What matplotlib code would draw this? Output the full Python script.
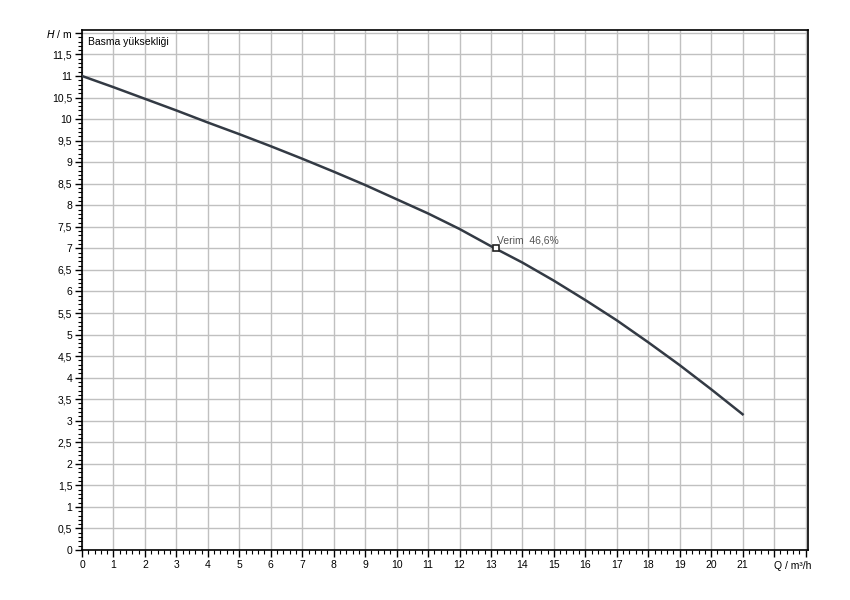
import matplotlib
matplotlib.use("Agg")
import matplotlib.pyplot as plt
from matplotlib.ticker import MultipleLocator, FuncFormatter

plt.rcParams['font.family'] = ['Liberation Sans', 'DejaVu Sans']

# pump curve
q = [0, 1, 2, 3, 4, 5, 6, 7, 8, 9, 10, 11, 12, 13, 14, 15, 16, 17, 18, 19, 20, 21]
h = [11.0, 10.74, 10.47, 10.2, 9.92, 9.65, 9.37, 9.08, 8.78, 8.47, 8.14,
     7.81, 7.45, 7.05, 6.67, 6.25, 5.8, 5.33, 4.82, 4.29, 3.73, 3.15]
bep_q = 13.15
bep_h = 7.0
bep_label = "Verim  46,6%"

fig = plt.figure(figsize=(8.5, 6), dpi=100)
ax = fig.add_axes([0.0965, 0.0833, 0.8545, 0.8662])

ax.plot(q, h, color='#333a44', lw=1.8, zorder=3)
ax.plot([bep_q], [bep_h], marker='s', ms=5, mfc='white', mec='#222222', mew=1.2, zorder=4)
ax.text(bep_q + 0.05, bep_h + 0.12, bep_label, fontsize=7.5, color='#555555')

ax.set_xlim(0, 23.09)
ax.set_ylim(0, 12.06)
ax.xaxis.set_major_locator(MultipleLocator(1))
ax.xaxis.set_minor_locator(MultipleLocator(0.2))
ax.yaxis.set_major_locator(MultipleLocator(0.5))
ax.yaxis.set_minor_locator(MultipleLocator(0.1))

ax.xaxis.set_major_formatter(FuncFormatter(lambda v, p: str(int(round(v))) if v <= 21.5 else ""))
ax.yaxis.set_major_formatter(FuncFormatter(lambda v, p: ("%g" % v).replace('.', ',') if v <= 11.75 else ""))

ax.grid(True, which='major', color='#c0c0c0', lw=1)
ax.set_axisbelow(True)
ax.tick_params(which='major', length=5, width=1, labelsize=7.5, color='black', pad=2)
ax.tick_params(which='minor', length=3, width=0.8, color='black')
for s in ax.spines.values():
    s.set_color('black')
    s.set_linewidth(1.2)

ax.text(22.0, -0.37, "Q / m³/h", fontsize=7.5, ha='left', va='center')
ax.text(-0.3, 11.98, "$\\it{H}$ / m", fontsize=7.5, ha='right', va='center')
ax.text(0.2, 11.8, "Basma yüksekliği", fontsize=7.5, ha='left', va='center')

fig.savefig("out.png", dpi=100)
